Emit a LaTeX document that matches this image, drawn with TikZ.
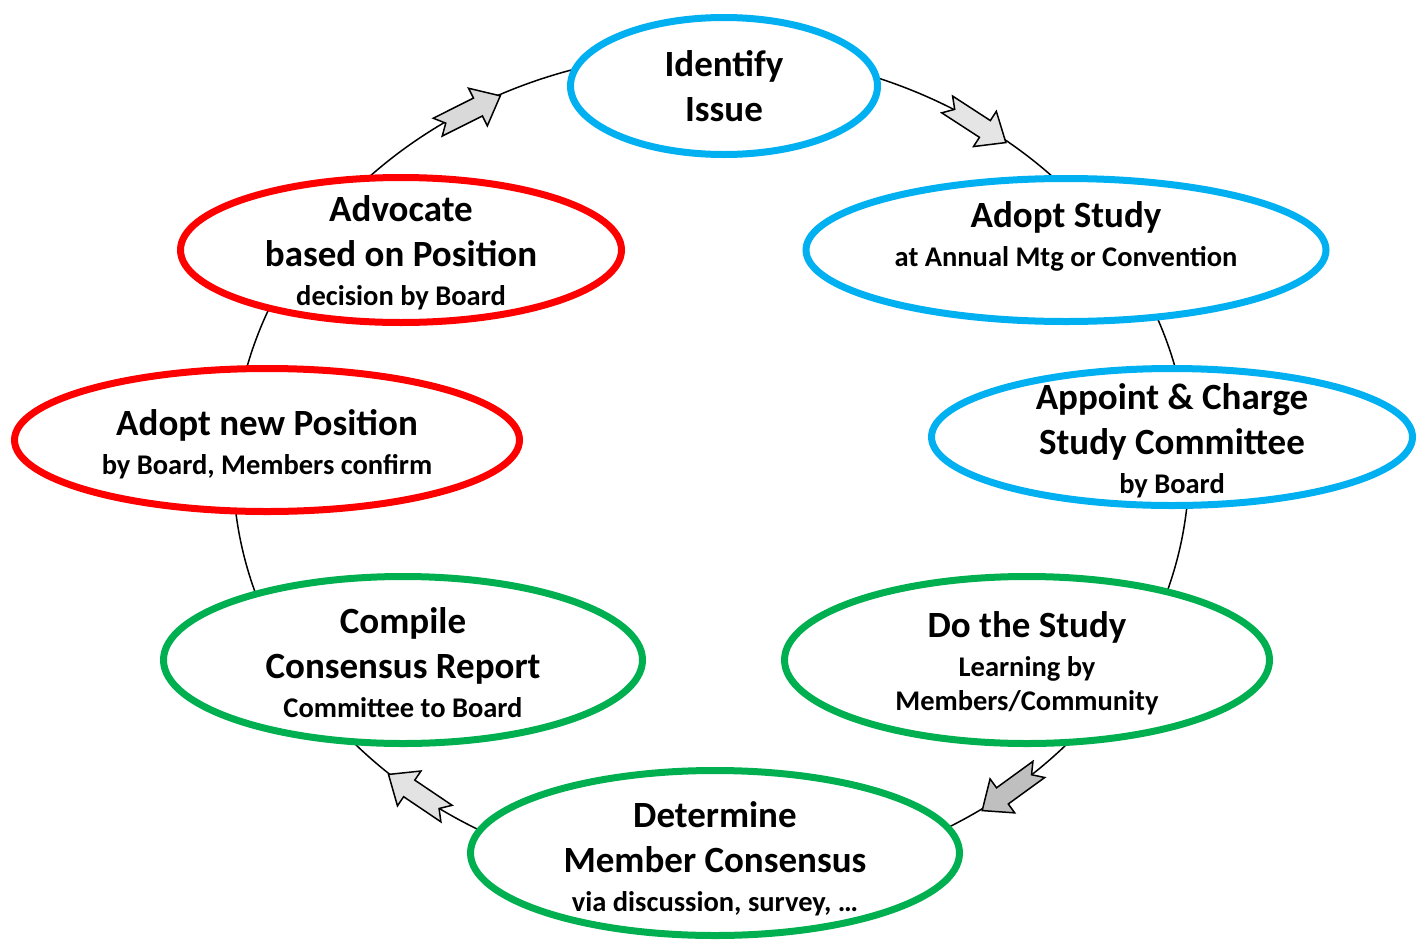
\documentclass[tikz,border=0pt]{standalone}
\usepackage{fontspec}
\setmainfont{Carlito}
\usetikzlibrary{shapes.geometric}
\definecolor{sblue}{HTML}{00B0F0}
\definecolor{sgreen}{HTML}{00B050}
\definecolor{sred}{HTML}{FF0000}
\newcommand{\bigtxt}{\fontsize{37}{45}\selectfont\bfseries}
\newcommand{\smtxt}{\fontsize{28.5}{36}\selectfont\bfseries}
\newcommand{\blockarrowat}[3]{%
  \begin{scope}[shift={#1}, rotate=#2]
    \draw[blockarrow, fill=#3] (-35,10) -- (10,10) -- (10,21) -- (35,0) -- (10,-21) -- (10,-10) -- (-35,-10) -- (-26,0) -- cycle;
  \end{scope}}
\begin{document}
\begin{tikzpicture}[x=1pt,y=-1pt,
  stage/.style={ellipse, draw, line width=7pt, fill=white, inner sep=0pt},
  lbl/.style={align=center, font=\bigtxt, inner sep=0pt, text=black},
  blockarrow/.style={draw=black, line width=1.5pt, line join=miter},
  cycleline/.style={line width=1.5pt}
]
\useasboundingbox (0,0) rectangle (1424,945);
\draw[cycleline] (711,467) ellipse [x radius=478, y radius=415];

\blockarrowat{(469,111.5)}{26.6}{black!15}
\blockarrowat{(976.5,123.5)}{-33}{black!10}
\blockarrowat{(1010.5,790)}{216}{black!25}
\blockarrowat{(417.5,794)}{146}{black!11}

\node[stage, draw=sblue, minimum width=307, minimum height=137] (n1) at (724,86) {};
\node[stage, draw=sblue, minimum width=520, minimum height=143] (n2) at (1066,250) {};
\node[stage, draw=sblue, minimum width=481, minimum height=137] (n3) at (1172,437) {};
\node[stage, draw=sgreen, minimum width=485, minimum height=167] (n4) at (1027,660) {};
\node[stage, draw=sgreen, minimum width=489, minimum height=165] (n5) at (715,853) {};
\node[stage, draw=sgreen, minimum width=479, minimum height=167] (n6) at (403,660) {};
\node[stage, draw=sred, minimum width=505, minimum height=143] (n7) at (267,440) {};
\node[stage, draw=sred, minimum width=441, minimum height=145] (n8) at (401,250) {};

\node[lbl] (t1) at (724,86) {Identify\\Issue};
\node[lbl] (t2) at (1066,236) {Adopt Study\\[-6pt]{\smtxt at Annual Mtg or Convention}};
\node[lbl] (t3) at (1172,441) {Appoint \& Charge\\Study Committee\\[-6pt]{\smtxt by Board}};
\node[lbl] (t4) at (1027,663) {Do the Study\\[-6pt]{\smtxt Learning by}\\[-11pt]{\smtxt Members/Community}};
\node[lbl] (t5) at (715,859) {Determine\\Member Consensus\\[-6pt]{\smtxt via discussion, survey, …}};
\node[lbl] (t6) at (403,663) {Compile\\Consensus Report\\[-6pt]{\smtxt Committee to Board}};
\node[lbl] (t7) at (267,444) {Adopt new Position\\[-6pt]{\smtxt by Board, Members confirm}};
\node[lbl] (t8) at (401,253) {Advocate\\based on Position\\[-6pt]{\smtxt decision by Board}};
\end{tikzpicture}
\end{document}
